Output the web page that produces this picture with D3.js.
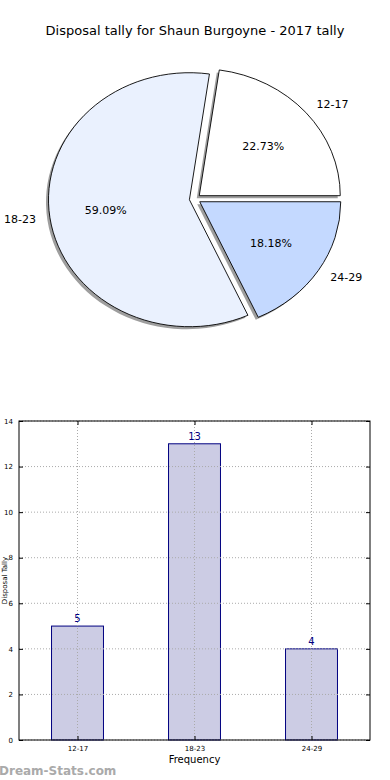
<!DOCTYPE html>
<html><head><meta charset="utf-8">
<script src="https://cdn.jsdelivr.net/npm/d3@7"></script>
<style>body{margin:0;background:#fff}svg{display:block;font-family:"DejaVu Sans",sans-serif}</style>
</head><body>
<svg id="c" width="390" height="780"></svg>
<script>
const title = "Disposal tally for Shaun Burgoyne - 2017 tally";
const categories = ["12-17", "18-23", "24-29"];
const values = [5, 13, 4];
const pieColors = ["#ffffff", "#eaf1fe", "#c4d9ff"];
const yTicks = [0, 2, 4, 6, 8, 10, 12, 14];
const xLabel = "Frequency";
const yLabel = "Disposal Tally";
const watermark = "Dream-Stats.com";

const svg = d3.select("#c");
svg.append("text").attr("x", 195).attr("y", 35).attr("text-anchor", "middle")
  .attr("font-size", 13).attr("fill", "#000").text(title);

// ---- Pie (elliptical, matplotlib-style, start at east, counter-clockwise)
const cx = 195, cy = 199, rx = 141, ry = 127, explode = 0.04;
const total = d3.sum(values);
const pie = d3.pie().sort(null).value(d => d)
  .startAngle(Math.PI / 2).endAngle(Math.PI / 2 - 2 * Math.PI);
const arcs = pie(values);
const arcGen = d3.arc().innerRadius(0).outerRadius(1);
function ptAt(a, r) { return [Math.sin(a) * r, -Math.cos(a) * r]; }
const pieG = svg.append("g");
const shadowG = pieG.append("g");
const sliceG = pieG.append("g");
const labelG = pieG.append("g");
arcs.forEach((d, i) => {
  const mid = (d.startAngle + d.endAngle) / 2;
  const [ux, uy] = ptAt(mid, 1);
  const ox = cx + explode * rx * ux, oy = cy + explode * ry * uy;
  const path = arcGen({startAngle: Math.min(d.startAngle, d.endAngle), endAngle: Math.max(d.startAngle, d.endAngle)});
  shadowG.append("path").attr("d", path)
    .attr("transform", `translate(${ox - 2.5},${oy + 2.5}) scale(${rx},${ry})`)
    .attr("fill", "#000").attr("fill-opacity", 0.38);
  sliceG.append("path").attr("d", path)
    .attr("transform", `translate(${ox},${oy}) scale(${rx},${ry})`)
    .attr("fill", pieColors[i]).attr("stroke", "#000").attr("stroke-width", 0.9)
    .attr("vector-effect", "non-scaling-stroke");
  const lx = ox + 1.1 * rx * ux, ly = oy + 1.1 * ry * uy;
  labelG.append("text").attr("x", lx).attr("y", ly).attr("dy", "0.35em")
    .attr("text-anchor", ux >= 0 ? "start" : "end").attr("font-size", 11)
    .text(categories[i]);
  const px = ox + 0.6 * rx * ux, py = oy + 0.6 * ry * uy;
  labelG.append("text").attr("x", px).attr("y", py).attr("dy", "0.35em")
    .attr("text-anchor", "middle").attr("font-size", 11)
    .text((values[i] / total * 100).toFixed(2) + "%");
});

// ---- Bar chart
const L = 19, R = 370, T = 421, B = 740;
const x = d3.scalePoint().domain(categories).range([L, R]).padding(0.5);
const y = d3.scaleLinear().domain([0, 14]).range([B, T]);
const bw = x.step() * 0.444;
const g = svg.append("g");
g.selectAll("rect.bar").data(values).join("rect").attr("class", "bar")
  .attr("x", (d, i) => x(categories[i]) - bw / 2).attr("y", d => y(d))
  .attr("width", bw).attr("height", d => B - y(d))
  .attr("fill", "#ccccE4").attr("stroke", "#000080").attr("stroke-width", 1);
const grid = g.append("g").attr("stroke", "#aaa").attr("stroke-dasharray", "1,2").attr("stroke-width", 1);
yTicks.forEach(t => grid.append("line").attr("x1", L).attr("x2", R).attr("y1", y(t)).attr("y2", y(t)));
categories.forEach(c => grid.append("line").attr("x1", x(c)).attr("x2", x(c)).attr("y1", T).attr("y2", B));
g.append("rect").attr("x", L).attr("y", T).attr("width", R - L).attr("height", B - T)
  .attr("fill", "none").attr("stroke", "#000").attr("stroke-width", 1);
const yAx = g.append("g").attr("transform", `translate(${L},0)`)
  .call(d3.axisLeft(y).tickValues(yTicks).tickSize(-4).tickPadding(6));
const xAx = g.append("g").attr("transform", `translate(0,${B})`)
  .call(d3.axisBottom(x).tickSize(-4).tickPadding(6));
const yAxR = g.append("g").attr("transform", `translate(${R},0)`)
  .call(d3.axisRight(y).tickValues(yTicks).tickSize(-4).tickFormat(""));
const xAxT = g.append("g").attr("transform", `translate(0,${T})`)
  .call(d3.axisTop(x).tickSize(-4).tickFormat(""));
[yAx, xAx, yAxR, xAxT].forEach(a => {
  a.select(".domain").remove();
  a.selectAll("text").attr("font-size", 7).attr("font-family", "DejaVu Sans").attr("fill", "#000");
  a.selectAll("line").attr("stroke", "#000");
});
g.selectAll("text.val").data(values).join("text").attr("class", "val")
  .attr("x", (d, i) => x(categories[i])).attr("y", d => y(d) - 4)
  .attr("text-anchor", "middle").attr("font-size", 10).attr("fill", "#000080").text(d => d);
g.append("text").attr("x", (L + R) / 2).attr("y", 763).attr("text-anchor", "middle")
  .attr("font-size", 10).text(xLabel);
g.append("text").attr("transform", `translate(7,${(T + B) / 2}) rotate(-90)`)
  .attr("text-anchor", "middle").attr("font-size", 7).text(yLabel);
svg.append("text").attr("x", -1).attr("y", 775).attr("font-size", 12).attr("font-weight", "600")
  .attr("fill", "#aaaaaa").text(watermark);
</script>
</body></html>
